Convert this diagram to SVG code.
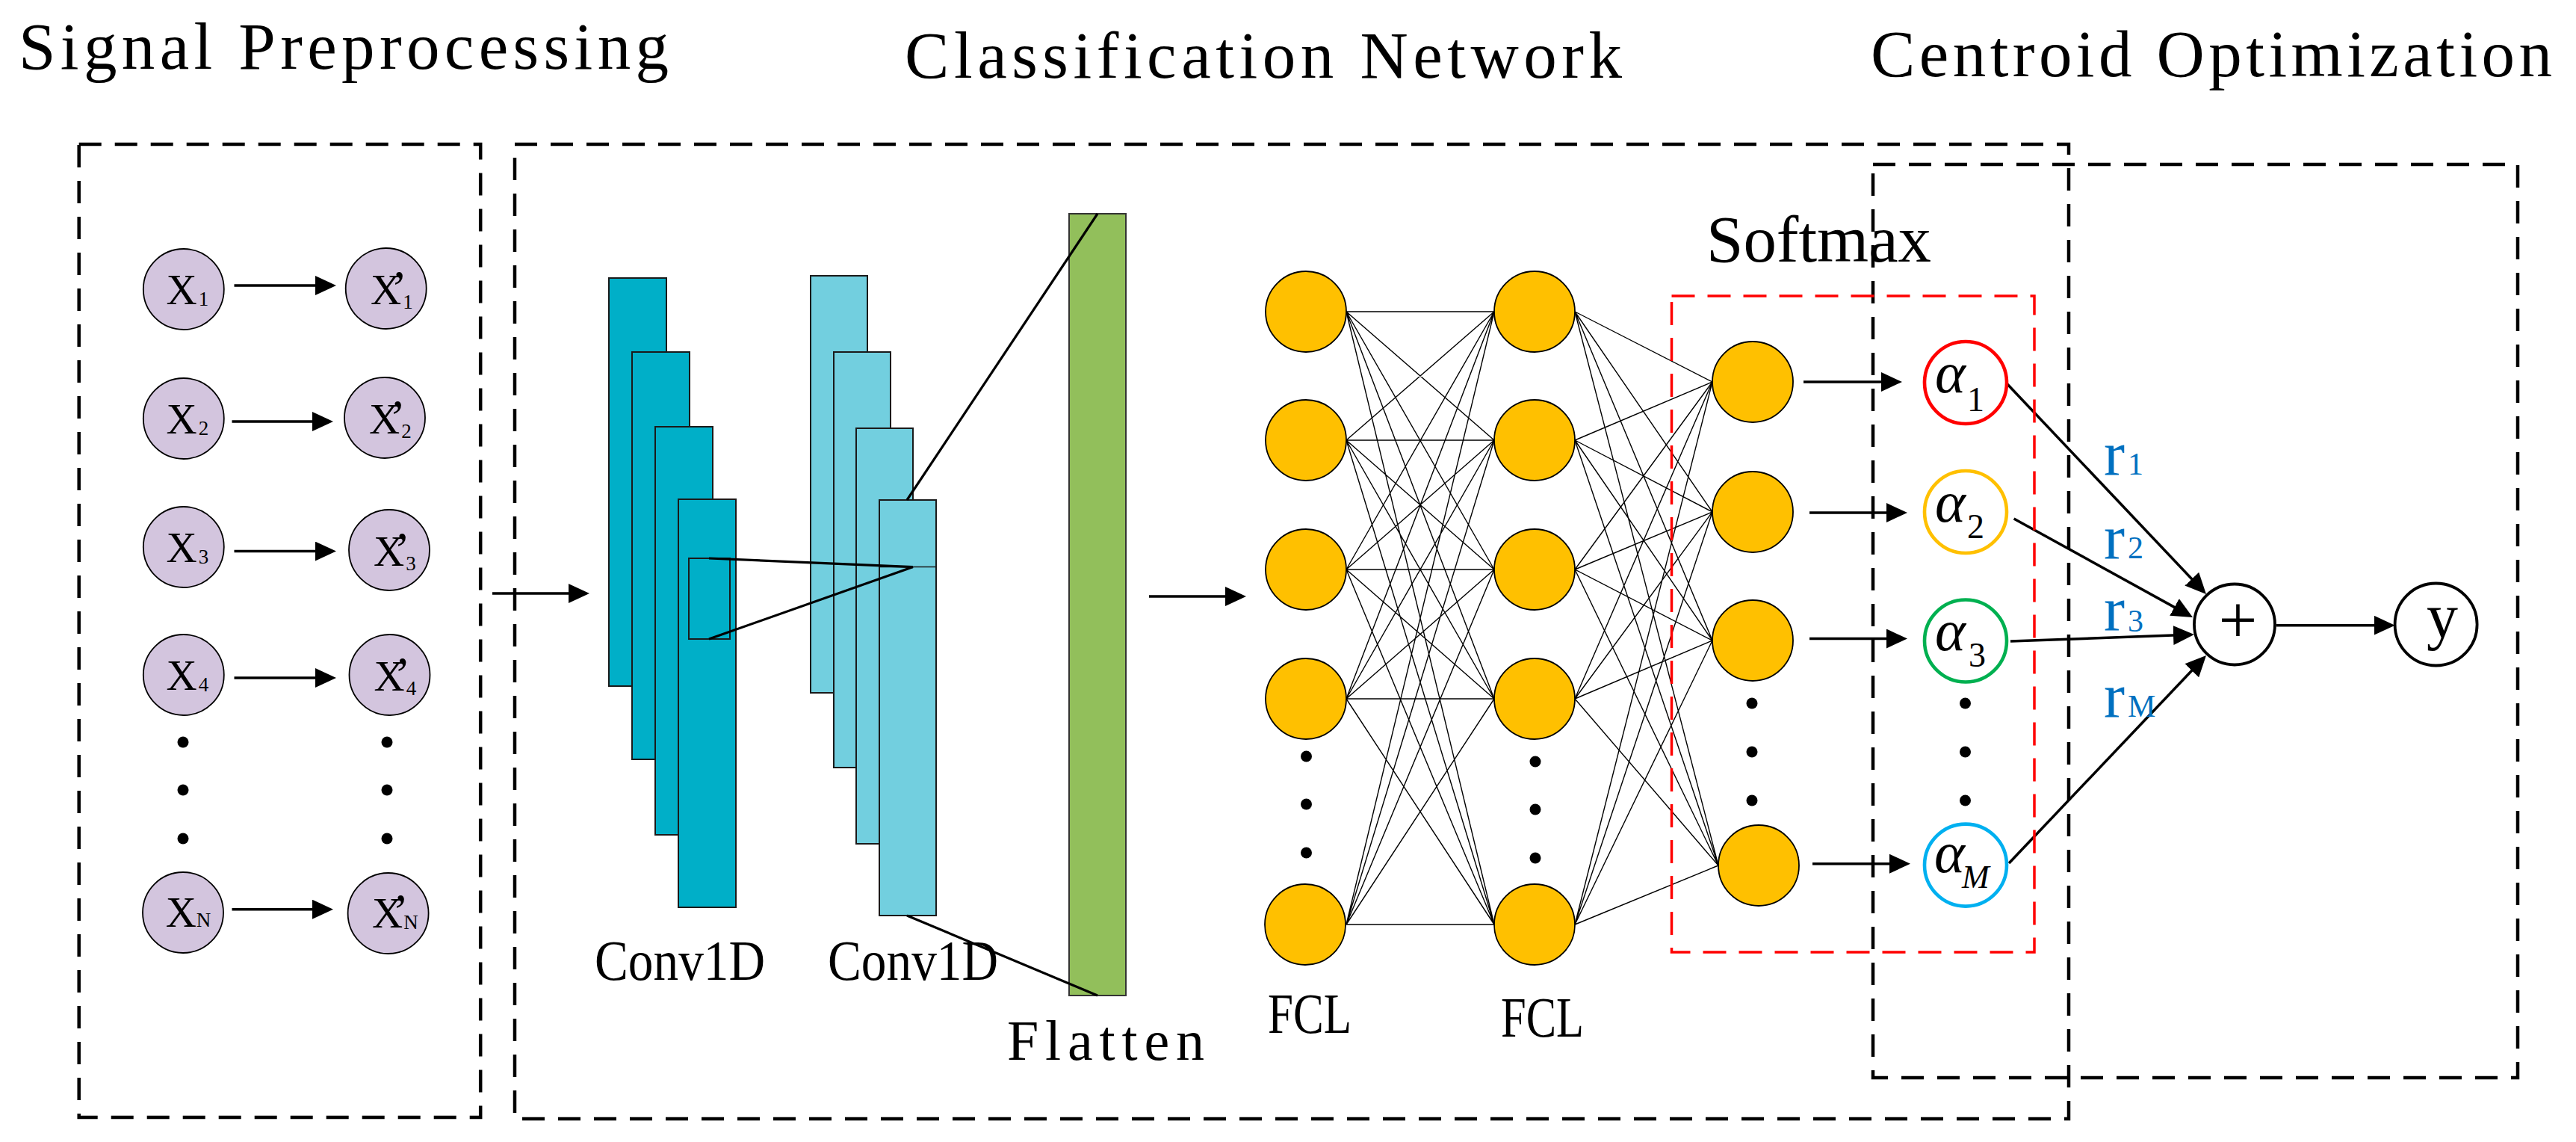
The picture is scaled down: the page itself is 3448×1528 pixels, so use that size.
<svg xmlns="http://www.w3.org/2000/svg" width="3448" height="1528" viewBox="0 0 3448 1528">
<defs>
<style>
.box{fill:none;stroke:#000;stroke-width:4.5;stroke-dasharray:30 18}
.rbox{fill:none;stroke:#f00;stroke-width:3.5;stroke-dasharray:31 17}
.pn{fill:#D3C5DE;stroke:#000;stroke-width:1.8}
.fc{fill:#FFC000;stroke:#000;stroke-width:1.8}
.c1{fill:#00AFC8;stroke:#1a1a1a;stroke-width:2}
.c2{fill:#72CFDF;stroke:#1a1a1a;stroke-width:2}
.arr{stroke:#000;stroke-width:3.5;fill:none;marker-end:url(#ah)}
.ln{stroke:#000;stroke-width:3.2;fill:none}
.fl{stroke:#000;stroke-width:1.4;fill:none}
.dot{fill:#000}
.title{font-family:"Liberation Serif",serif;font-size:89px;fill:#000}
.lab{font-family:"Liberation Serif",serif;font-size:76px;fill:#000}
.mx{font-family:"Liberation Serif",serif;fill:#000}
.al{font-family:"Liberation Serif",serif;font-style:italic;font-size:78px;fill:#000}
.rl{font-family:"Liberation Serif",serif;font-size:84px;fill:#0070C0}
</style>
<marker id="ah" markerUnits="userSpaceOnUse" viewBox="0 0 28 26" markerWidth="28" markerHeight="26" refX="20" refY="13" orient="auto"><path d="M0,0 L28,13 L0,26 z" fill="#000"/></marker>
</defs>
<rect width="3448" height="1528" fill="#fff"/>

<g id="titles">
<text class="title" x="25" y="92" textLength="870" lengthAdjust="spacing">Signal Preprocessing</text>
<text class="title" x="1211" y="104" textLength="960" lengthAdjust="spacing">Classification Network</text>
<text class="title" x="2504" y="102" textLength="912" lengthAdjust="spacing">Centroid Optimization</text>
</g>

<g id="conv1">
<rect class="c1" x="815" y="372" width="77" height="546"/>
<rect class="c1" x="846" y="471" width="77" height="545"/>
<rect class="c1" x="877" y="571" width="77" height="546"/>
<rect class="c1" x="908" y="668" width="77" height="546"/>
<rect x="922" y="747" width="55" height="108" fill="none" stroke="#1a1a1a" stroke-width="2"/>
<text class="lab" x="796" y="1311" textLength="228" lengthAdjust="spacingAndGlyphs">Conv1D</text>
</g>
<g id="conv2">
<rect class="c2" x="1085" y="369" width="76" height="558"/>
<rect class="c2" x="1116" y="471" width="76" height="556"/>
<rect class="c2" x="1146" y="573" width="76" height="556"/>
<rect class="c2" x="1177" y="669" width="76" height="556"/>
<line x1="1177" y1="758.6" x2="1253" y2="758.6" stroke="#1a1a1a" stroke-width="1.5"/>
<text class="lab" x="1108" y="1311" textLength="228" lengthAdjust="spacingAndGlyphs">Conv1D</text>
</g>
<g id="flatten">
<rect x="1431" y="286" width="76" height="1046" fill="#92BF5B" stroke="#333" stroke-width="2"/>
<text class="lab" x="1348" y="1418" textLength="264" lengthAdjust="spacing">Flatten</text>
</g>

<g id="connectors">
<line class="arr" x1="313.5" y1="382" x2="442" y2="382"/>
<line class="arr" x1="310.5" y1="564" x2="438" y2="564"/>
<line class="arr" x1="313.5" y1="737.6" x2="442" y2="737.6"/>
<line class="arr" x1="313.5" y1="907" x2="442" y2="907"/>
<line class="arr" x1="310.5" y1="1216.7" x2="438" y2="1216.7"/>
<line class="arr" x1="659" y1="794" x2="781" y2="794"/>
<line class="ln" x1="949" y1="747" x2="1222" y2="758.6"/>
<line class="ln" x1="949" y1="855" x2="1222" y2="758.6"/>
<line class="ln" x1="1214" y1="669" x2="1469" y2="286"/>
<line class="ln" x1="1214" y1="1225" x2="1469" y2="1332"/>
<line class="arr" x1="1538" y1="798" x2="1660" y2="798"/>
<path class="fl" d="M1802,417L2000,417M1802,417L2000,589M1802,417L2000,762M1802,417L2000,935M1802,417L2000,1237
M1802,589L2000,417M1802,589L2000,589M1802,589L2000,762M1802,589L2000,935M1802,589L2000,1237
M1802,762L2000,417M1802,762L2000,589M1802,762L2000,762M1802,762L2000,935M1802,762L2000,1237
M1802,935L2000,417M1802,935L2000,589M1802,935L2000,762M1802,935L2000,935M1802,935L2000,1237
M1802,1237L2000,417M1802,1237L2000,589M1802,1237L2000,762M1802,1237L2000,935M1802,1237L2000,1237
M2108,417L2292,511M2108,417L2292,685M2108,417L2292,857M2108,417L2300,1158
M2108,589L2292,511M2108,589L2292,685M2108,589L2292,857M2108,589L2300,1158
M2108,762L2292,511M2108,762L2292,685M2108,762L2292,857M2108,762L2300,1158
M2108,935L2292,511M2108,935L2292,685M2108,935L2292,857M2108,935L2300,1158
M2108,1237L2292,511M2108,1237L2292,685M2108,1237L2292,857M2108,1237L2300,1158"/>
<line class="arr" x1="2414" y1="511" x2="2538" y2="511"/>
<line class="arr" x1="2422" y1="686" x2="2545" y2="686"/>
<line class="arr" x1="2422" y1="854.5" x2="2545" y2="854.5"/>
<line class="arr" x1="2426" y1="1155.7" x2="2549" y2="1155.7"/>
<line class="arr" x1="2685" y1="512" x2="2947.5" y2="789.2"/>
<line class="arr" x1="2695.6" y1="694" x2="2928" y2="822.1"/>
<line class="arr" x1="2691" y1="858" x2="2929" y2="849.3"/>
<line class="arr" x1="2689" y1="1155" x2="2947.5" y2="882.8"/>
<line class="arr" x1="3047" y1="836.7" x2="3197.7" y2="836.7"/>
</g>

<g id="x1"><circle class="pn" cx="245.8" cy="387" r="54"/><text class="mx" x="222.5" y="407" font-size="57">X<tspan font-size="27" dx="2" dy="2">1</tspan></text></g>
<g id="x2"><circle class="pn" cx="245.8" cy="560" r="54"/><text class="mx" x="222.5" y="580" font-size="57">X<tspan font-size="27" dx="2" dy="2">2</tspan></text></g>
<g id="x3"><circle class="pn" cx="245.8" cy="732" r="54"/><text class="mx" x="222.5" y="752" font-size="57">X<tspan font-size="27" dx="2" dy="2">3</tspan></text></g>
<g id="x4"><circle class="pn" cx="245.8" cy="903" r="54"/><text class="mx" x="222.5" y="923" font-size="57">X<tspan font-size="27" dx="2" dy="2">4</tspan></text></g>
<g id="xN"><circle class="pn" cx="245" cy="1221" r="54"/><text class="mx" x="221.7" y="1240" font-size="57">X<tspan font-size="27" dx="0">N</tspan></text></g>

<g id="xp1"><circle class="pn" cx="516.7" cy="386" r="54"/><text class="mx" x="496" y="407" font-size="57">X<tspan font-size="66" dx="-14">’</tspan><tspan font-size="27" dx="-6" dy="6">1</tspan></text></g>
<g id="xp2"><circle class="pn" cx="515" cy="559" r="54"/><text class="mx" x="494" y="580" font-size="57">X<tspan font-size="66" dx="-14">’</tspan><tspan font-size="27" dx="-6" dy="6">2</tspan></text></g>
<g id="xp3"><circle class="pn" cx="521" cy="736" r="54"/><text class="mx" x="500" y="757" font-size="57">X<tspan font-size="66" dx="-14">’</tspan><tspan font-size="27" dx="-6" dy="6">3</tspan></text></g>
<g id="xp4"><circle class="pn" cx="521.5" cy="903" r="54"/><text class="mx" x="500.5" y="924" font-size="57">X<tspan font-size="66" dx="-14">’</tspan><tspan font-size="27" dx="-6" dy="6">4</tspan></text></g>
<g id="xpN"><circle class="pn" cx="519.6" cy="1222" r="54"/><text class="mx" x="498" y="1241" font-size="57">X<tspan font-size="66" dx="-14">’</tspan><tspan font-size="27" dx="-7" dy="2">N</tspan></text></g>

<g id="ellipsis">
<circle class="dot" cx="245" cy="993" r="7.5"/><circle class="dot" cx="245" cy="1057" r="7.5"/><circle class="dot" cx="245" cy="1122" r="7.5"/>
<circle class="dot" cx="518" cy="993" r="7.5"/><circle class="dot" cx="518" cy="1057" r="7.5"/><circle class="dot" cx="518" cy="1122" r="7.5"/>
<circle class="dot" cx="1748.5" cy="1012" r="7.5"/><circle class="dot" cx="1748.5" cy="1076" r="7.5"/><circle class="dot" cx="1748.5" cy="1141" r="7.5"/>
<circle class="dot" cx="2055" cy="1019" r="7.5"/><circle class="dot" cx="2055" cy="1083" r="7.5"/><circle class="dot" cx="2055" cy="1148" r="7.5"/>
<circle class="dot" cx="2345" cy="941" r="7.5"/><circle class="dot" cx="2345" cy="1006" r="7.5"/><circle class="dot" cx="2345" cy="1071" r="7.5"/>
<circle class="dot" cx="2630.5" cy="941" r="7.5"/><circle class="dot" cx="2630.5" cy="1006" r="7.5"/><circle class="dot" cx="2630.5" cy="1071" r="7.5"/>
</g>

<g id="fc1">
<circle class="fc" cx="1748" cy="417" r="54"/><circle class="fc" cx="1748" cy="589" r="54"/><circle class="fc" cx="1748" cy="762" r="54"/><circle class="fc" cx="1748" cy="935" r="54"/><circle class="fc" cx="1747" cy="1237" r="54"/>
<text class="lab" x="1697" y="1382" textLength="112" lengthAdjust="spacingAndGlyphs">FCL</text>
</g>
<g id="fc2">
<circle class="fc" cx="2054" cy="417" r="54"/><circle class="fc" cx="2054" cy="589" r="54"/><circle class="fc" cx="2054" cy="762" r="54"/><circle class="fc" cx="2054" cy="935" r="54"/><circle class="fc" cx="2054" cy="1237" r="54"/>
<text class="lab" x="2009" y="1387" textLength="111" lengthAdjust="spacingAndGlyphs">FCL</text>
</g>
<g id="softmax">
<circle class="fc" cx="2346" cy="511" r="54"/><circle class="fc" cx="2346" cy="685" r="54"/><circle class="fc" cx="2346" cy="857" r="54"/><circle class="fc" cx="2354" cy="1158" r="54"/>
<text class="title" x="2284" y="350" textLength="301" lengthAdjust="spacingAndGlyphs">Softmax</text>
</g>

<g id="a1"><circle cx="2631" cy="512" r="55" fill="#fff" stroke="#FF0000" stroke-width="4.6"/><text class="al" x="2590" y="525">α<tspan font-style="normal" font-size="46" dx="2" dy="25">1</tspan></text></g>
<g id="a2"><circle cx="2631" cy="685" r="55" fill="#fff" stroke="#FFC000" stroke-width="4.6"/><text class="al" x="2590" y="698">α<tspan font-style="normal" font-size="46" dx="2" dy="22">2</tspan></text></g>
<g id="a3"><circle cx="2631" cy="857.5" r="55" fill="#fff" stroke="#00B050" stroke-width="4.6"/><text class="al" x="2590" y="870">α<tspan font-style="normal" font-size="46" dx="4" dy="22">3</tspan></text></g>
<g id="aM"><circle cx="2631" cy="1157.6" r="55" fill="#fff" stroke="#00B0F0" stroke-width="4.6"/><text class="al" x="2589" y="1167">α<tspan font-size="44" dx="-4" dy="21">M</tspan></text></g>

<g id="rlabels">
<text class="rl" x="2816" y="635">r<tspan font-size="42" dx="4">1</tspan></text>
<text class="rl" x="2816" y="747">r<tspan font-size="42" dx="4">2</tspan></text>
<text class="rl" x="2816" y="843">r<tspan font-size="42" dx="4" dy="2">3</tspan></text>
<text class="rl" x="2816" y="959">r<tspan font-size="42" dx="4">M</tspan></text>
</g>

<g id="sum"><circle cx="2991" cy="835.5" r="54" fill="#fff" stroke="#000" stroke-width="3.8"/><text class="mx" x="2995.5" y="860" font-size="92" text-anchor="middle">+</text></g>
<g id="y"><circle cx="3260.6" cy="835.5" r="55" fill="#fff" stroke="#000" stroke-width="3.8"/><text class="mx" x="3269" y="853" font-size="84" text-anchor="middle">y</text></g>

<g id="boxes">
<rect class="box" x="105.7" y="193" width="537.5" height="1302"/>
<rect class="box" x="689" y="193" width="2080" height="1304"/>
<rect class="box" x="2507" y="220" width="863" height="1222"/>
<rect class="rbox" x="2237.5" y="396" width="485.5" height="878"/>
</g>
</svg>
